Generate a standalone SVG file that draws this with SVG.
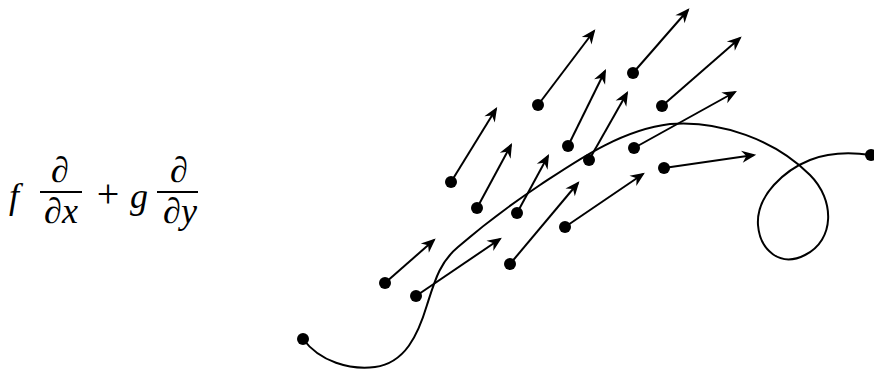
<svg xmlns="http://www.w3.org/2000/svg" width="874" height="371" viewBox="0 0 874 371">
<defs>
<style>
.m{font-family:"Liberation Serif","Times New Roman",serif;fill:#000}
.i{font-style:italic}
.bar{stroke:#000;stroke-width:1.8}
.v{stroke:#000;stroke-width:2;fill:none;marker-end:url(#ah)}
.c{stroke:#000;stroke-width:2;fill:none}
.d{fill:#000}
</style>
<marker id="ah" markerUnits="userSpaceOnUse" markerWidth="20" markerHeight="20" viewBox="-14 -8 18 16" refX="0" refY="0" orient="auto">
<path d="M2,0 L-11,-5.5 L-7,0 L-11,5.5 Z" fill="#000"/>
</marker>
</defs>
<rect width="874" height="371" fill="#fff"/>
<g id="formula">
<text class="m i" x="9" y="208" font-size="36">f</text>
<text class="m" x="60" y="182" font-size="36" text-anchor="middle">∂</text>
<line class="bar" x1="40" y1="192" x2="82" y2="192"/>
<text class="m" x="61" y="223" font-size="36" text-anchor="middle">∂<tspan class="i">x</tspan></text>
<text class="m" x="108" y="207" font-size="40" text-anchor="middle">+</text>
<text class="m i" x="130" y="208" font-size="36">g</text>
<text class="m" x="179" y="182" font-size="36" text-anchor="middle">∂</text>
<line class="bar" x1="157" y1="192" x2="198" y2="192"/>
<text class="m" x="180" y="223" font-size="36" text-anchor="middle">∂<tspan class="i">y</tspan></text>
</g>
<g id="curve">
<path class="c" d="M303,339 C320,362 350,370 375,367 C405,363 418,335 427,305 C435,280 440,262 458,247 C480,228 510,205 540,185 C575,162 620,130 670,124 C720,120 775,140 810,175 C835,200 835,240 805,255 C780,268 760,250 758,225 C756,195 785,170 810,160 C830,152 850,152 871,155"/>
<circle class="d" id="start" cx="303" cy="339" r="6"/>
<circle class="d" id="end" cx="871" cy="155" r="6"/>
</g>
<g id="vectors">
<line class="v" x1="385" y1="283" x2="434" y2="240"/>
<line class="v" x1="416" y1="296" x2="500" y2="239"/>
<line class="v" x1="451" y1="182" x2="496" y2="109"/>
<line class="v" x1="477" y1="208" x2="511" y2="145"/>
<line class="v" x1="517" y1="213" x2="548" y2="156"/>
<line class="v" x1="538" y1="105" x2="594" y2="31"/>
<line class="v" x1="568" y1="146" x2="605" y2="71"/>
<line class="v" x1="589" y1="160" x2="627" y2="93"/>
<line class="v" x1="633" y1="73" x2="688" y2="10"/>
<line class="v" x1="662" y1="106" x2="740" y2="38"/>
<line class="v" x1="634" y1="148" x2="735" y2="92"/>
<line class="v" x1="664" y1="168" x2="754" y2="155"/>
<line class="v" x1="565" y1="227" x2="643" y2="174"/>
<line class="v" x1="510" y1="264" x2="578" y2="183"/>
</g>
<g id="points">
<circle class="d" cx="385" cy="283" r="6"/>
<circle class="d" cx="416" cy="296" r="6"/>
<circle class="d" cx="451" cy="182" r="6"/>
<circle class="d" cx="477" cy="208" r="6"/>
<circle class="d" cx="517" cy="213" r="6"/>
<circle class="d" cx="538" cy="105" r="6"/>
<circle class="d" cx="568" cy="146" r="6"/>
<circle class="d" cx="589" cy="160" r="6"/>
<circle class="d" cx="633" cy="73" r="6"/>
<circle class="d" cx="662" cy="106" r="6"/>
<circle class="d" cx="634" cy="148" r="6"/>
<circle class="d" cx="664" cy="168" r="6"/>
<circle class="d" cx="565" cy="227" r="6"/>
<circle class="d" cx="510" cy="264" r="6"/>
</g>
</svg>
